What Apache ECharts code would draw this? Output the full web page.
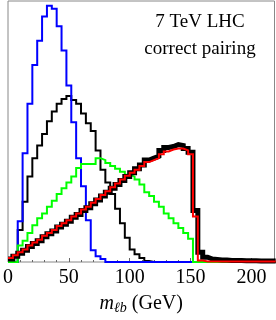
<!DOCTYPE html>
<html>
<head>
<meta charset="utf-8">
<script src="https://cdn.jsdelivr.net/npm/echarts@6/dist/echarts.min.js"></script>
<style>html,body{margin:0;padding:0;background:#fff;}#c{width:276px;height:320px;}</style>
</head>
<body>
<div id="c"></div>
<script>
// 4 GeV bins starting at 0 GeV
const binWidth = 4;
const xTicks = [0, 50, 100, 150, 200];
const blue = [0,0,42,112,163,203,228,253,264,261,243,218,182,144,107,78,43,12,6,3,
  0,0,0,0,0,0,0,0,0,0,0,0,0,0,0,0,0,0,0,0,0,0,0,0,0,0,0,0,0,0,0,0,0,0,0];
const blackThin = [0,0,33,62,88,107,120,132,145,155,163,168,171,167,163,153,143,135,115,95,82,70,55,40,25,13,8,4,1,
  0,0,0,0,0,0,0,0,0,0,0,0,0,0,0,0,0,0,0,0,0,0,0,0,0,0];
const green = [0,0,17,22,30,38,45,50,57,63,70,76,82,88,97,101,101,101,107,105,102,99,96,93,90,88,85,80,72,68,62,57,50,45,40,35,30,24,
  0,0,0,0,0,0,0,0,0,0,0,0,0,0,0,0,0];
const blackThick = [3,6,9,12,16,19,22,26,29,32,36,39,42,46,49,53,56,60,64,68,72,76,80,84,88,92,96,100,105,107,109,115,118,119,121,120,117,113,53,10,5,3,2.5,2,2,1.5,1.5,1.5,1.2,1.2,1.2,1,1,1,1];
const red = [4,7,10,13,17,20,23,27,30,33,37,40,43,47,50,54,57,61,65,69,73,77,81,85,89,92,95,99,103,105,107,111,114,116,117,117,115,111,47,1.5,
  0.5,0.5,0.5,0.5,0.5,0.5,0.5,0.5,0.5,0.5,0.5,0.5,0.5,0.5,0.5];

function hist(vals) {
  const d = vals.map((v, i) => [i * binWidth, v]);
  d.push([vals.length * binWidth, vals[vals.length - 1]]);
  return d;
}
function series(vals, color, width, z) {
  return {
    type: 'line', step: 'end', data: hist(vals), showSymbol: false, z: z,
    lineStyle: { color: color, width: width, join: 'miter' }, silent: true
  };
}
const serif = '"Liberation Serif", "DejaVu Serif", serif';
const chart = echarts.init(document.getElementById('c'), null, { renderer: 'canvas' });
chart.setOption({
  animation: false,
  grid: { left: 3.5, right: 1.5, top: 1, bottom: 50, show: true, borderColor: '#888', borderWidth: 1, backgroundColor: 'transparent' },
  xAxis: {
    type: 'value', min: 0, max: 219, interval: 50,
    axisLine: { show: false },
    axisTick: { show: true, inside: true, length: 4, lineStyle: { color: '#666' } },
    minorTick: { show: true, splitNumber: 5, length: 2, lineStyle: { color: '#666' } },
    splitLine: { show: false },
    axisLabel: { color: '#000', fontFamily: serif, fontSize: 20, margin: 6, showMinLabel: true, showMaxLabel: false,
      formatter: v => xTicks.includes(v) ? String(v) : '' },
    name: '{m|m}{s|ℓb}{t| (GeV)}', nameLocation: 'middle', nameGap: 31,
    nameTextStyle: {
      rich: {
        m: { fontFamily: serif, fontStyle: 'italic', fontSize: 20, color: '#000', lineHeight: 22, verticalAlign: 'middle' },
        s: { fontFamily: serif, fontStyle: 'italic', fontSize: 14, color: '#000', lineHeight: 12, verticalAlign: 'bottom' },
        t: { fontFamily: serif, fontSize: 20, color: '#000', lineHeight: 22, verticalAlign: 'middle' }
      }
    }
  },
  yAxis: { type: 'value', min: 0, max: 269, show: false },
  series: [
    series(blackThin, '#000000', 2, 2),
    series(blue, '#0000ff', 2, 3),
    series(green, '#00ff00', 2, 4),
    series(blackThick, '#000000', 5, 5),
    series(red, '#ff0000', 2, 6)
  ],
  graphic: [
    { type: 'text', x: 200, y: 22, style: { text: '7 TeV LHC', fontFamily: serif, fontSize: 19, fill: '#000', textAlign: 'center', textVerticalAlign: 'middle' } },
    { type: 'text', x: 200, y: 49.5, style: { text: 'correct pairing', fontFamily: serif, fontSize: 19, fill: '#000', textAlign: 'center', textVerticalAlign: 'middle' } }
  ]
});
</script>
</body>
</html>
